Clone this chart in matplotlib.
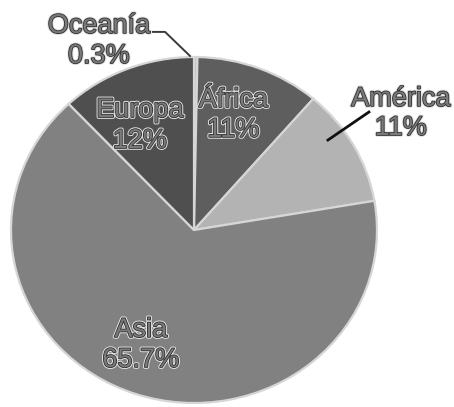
import matplotlib
matplotlib.use("Agg")
import matplotlib.pyplot as plt
import matplotlib.patheffects as pe

# Share of the total by continent, clockwise from 12 o'clock
continents = ["Oceanía", "África", "América", "Asia", "Europa"]
shares = [0.3, 11, 11, 65.7, 12]
colors = ["#c4c4c4", "#5e5e5e", "#b3b3b3", "#818181", "#4f4f4f"]

W, H = 454, 407
fig = plt.figure(figsize=(W / 100, H / 100), dpi=100)

# Pie bounding box in pixels (slightly wider than tall)
left_px, right_px, top_px, bottom_px = 11, 377, 57, 403
ax = fig.add_axes([left_px / W, (H - bottom_px) / H,
                   (right_px - left_px) / W, (bottom_px - top_px) / H])

ax.pie(shares, colors=colors, startangle=90, counterclock=False,
       wedgeprops=dict(edgecolor="#d6d6d6", linewidth=1.6))
ax.set_aspect("auto")
ax.set_xlim(-1, 1)
ax.set_ylim(-1, 1)
ax.axis("off")

text_fx = [pe.Stroke(linewidth=2.6, foreground="#e4e4e4"),
           pe.Stroke(linewidth=1.2, foreground="#2e2e2e"),
           pe.Normal()]
font = dict(family="Liberation Sans", fontsize=19.5, color="#7a7a7a",
            ha="center", va="baseline", path_effects=text_fx)

# label anchor (x, baseline of name, baseline of percentage) in radius units
anchors = {
    "Oceanía": (-0.519, 1.139, 0.965),
    "África": (0.216, 0.711, 0.538),
    "América": (1.131, 0.717, 0.549),
    "Asia": (-0.290, -0.618, -0.792),
    "Europa": (-0.295, 0.653, 0.474),
}

for name, value in zip(continents, shares):
    x, y1, y2 = anchors[name]
    ax.text(x, y1, name, **font)
    ax.text(x, y2, f"{value:g}%", **font)

# leader lines for the labels placed outside the pie
ax.plot([-0.224, -0.158, -0.022], [1.145, 1.145, 1.006],
        color="#3a3a3a", lw=1.4, clip_on=False)
ax.plot([0.732, 0.956], [0.520, 0.682], color="#111111", lw=2.0,
        clip_on=False)

fig.savefig("out.png", dpi=100)
